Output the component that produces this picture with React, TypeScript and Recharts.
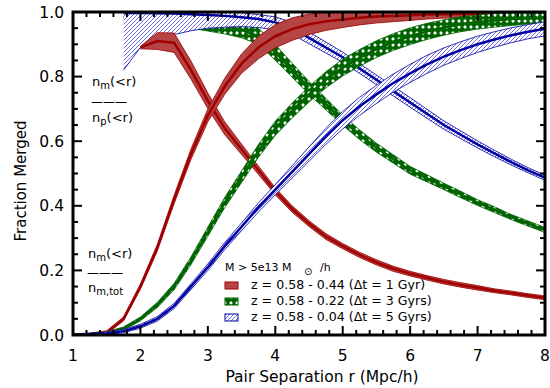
import { ComposedChart, Area, Line, XAxis, YAxis } from "recharts";

const FONT = "'DejaVu Sans', sans-serif";
const RED = "#a00000";
const RED_FILL = "#b54444";
const GREEN = "#006400";
const BLUE = "#0000a0";
const HATCH = "#4848e0";

// pair separation r (Mpc/h)
const xs = [1, 1.25, 1.5, 1.75, 2, 2.25, 2.5, 2.75, 3, 3.25, 3.5, 3.75, 4, 4.25, 4.5, 4.75, 5, 5.25, 5.5, 5.75, 6, 6.25, 6.5, 6.75, 7, 7.25, 7.5, 7.75, 8];

// n_m(<r) / n_m,tot  (rising curves) and half widths of the bands
const redUp = [0, 0.002, 0.008, 0.05, 0.15, 0.27, 0.42, 0.56, 0.68, 0.77, 0.84, 0.89, 0.925, 0.947, 0.962, 0.971, 0.977, 0.982, 0.986, 0.988, 0.99, 0.992, 0.993, 0.994, 0.995, 0.996, 0.996, 0.997, 0.997];
const redUpW = [0.004, 0.004, 0.005, 0.006, 0.008, 0.01, 0.013, 0.016, 0.02, 0.025, 0.03, 0.035, 0.036, 0.035, 0.032, 0.028, 0.025, 0.022, 0.02, 0.018, 0.016, 0.014, 0.012, 0.011, 0.01, 0.009, 0.008, 0.008, 0.007];
const greenUp = [0, 0.002, 0.006, 0.02, 0.05, 0.093, 0.15, 0.23, 0.32, 0.41, 0.49, 0.57, 0.64, 0.695, 0.745, 0.79, 0.828, 0.858, 0.885, 0.907, 0.925, 0.94, 0.952, 0.962, 0.969, 0.974, 0.978, 0.981, 0.983];
const greenUpW = [0.003, 0.003, 0.004, 0.005, 0.006, 0.008, 0.01, 0.012, 0.014, 0.016, 0.018, 0.02, 0.022, 0.023, 0.024, 0.025, 0.026, 0.026, 0.026, 0.026, 0.026, 0.025, 0.024, 0.023, 0.022, 0.021, 0.02, 0.018, 0.017];
const blueUp = [0, 0.002, 0.005, 0.012, 0.027, 0.05, 0.09, 0.15, 0.21, 0.275, 0.335, 0.395, 0.45, 0.505, 0.56, 0.615, 0.665, 0.708, 0.745, 0.78, 0.81, 0.838, 0.862, 0.882, 0.9, 0.915, 0.928, 0.939, 0.948];
const blueUpW = [0.003, 0.003, 0.004, 0.005, 0.006, 0.007, 0.008, 0.009, 0.01, 0.011, 0.012, 0.014, 0.016, 0.019, 0.022, 0.025, 0.027, 0.028, 0.028, 0.028, 0.028, 0.028, 0.027, 0.026, 0.025, 0.024, 0.023, 0.022, 0.022];

// n_m(<r) / n_p(<r)  (falling curves)
const redDown = [null, null, null, null, 0.89, 0.91, 0.905, 0.82, 0.725, 0.64, 0.575, 0.51, 0.445, 0.39, 0.345, 0.305, 0.275, 0.248, 0.225, 0.205, 0.19, 0.177, 0.165, 0.155, 0.146, 0.137, 0.13, 0.122, 0.115];
const redDownW = [null, null, null, null, 0.004, 0.026, 0.03, 0.028, 0.024, 0.02, 0.016, 0.013, 0.011, 0.01, 0.009, 0.009, 0.008, 0.008, 0.008, 0.008, 0.007, 0.007, 0.007, 0.007, 0.007, 0.006, 0.006, 0.006, 0.006];
const greenDown = [null, null, null, 0.985, 0.985, 0.982, 0.978, 0.972, 0.965, 0.957, 0.945, 0.925, 0.875, 0.82, 0.765, 0.715, 0.665, 0.62, 0.58, 0.545, 0.51, 0.485, 0.46, 0.435, 0.41, 0.388, 0.365, 0.345, 0.325];
const greenDownW = [null, null, null, 0.015, 0.015, 0.018, 0.02, 0.022, 0.024, 0.025, 0.025, 0.025, 0.024, 0.022, 0.02, 0.018, 0.016, 0.015, 0.014, 0.013, 0.012, 0.011, 0.01, 0.01, 0.009, 0.009, 0.008, 0.008, 0.008];
const blueDown = [null, null, null, 0.997, 0.997, 0.996, 0.995, 0.993, 0.991, 0.988, 0.984, 0.978, 0.968, 0.95, 0.92, 0.89, 0.86, 0.825, 0.79, 0.755, 0.72, 0.685, 0.65, 0.62, 0.59, 0.562, 0.535, 0.51, 0.487];
const blueDownLo = [null, null, null, 0.82, 0.89, 0.915, 0.93, 0.942, 0.95, 0.953, 0.955, 0.952, 0.945, 0.93, 0.902, 0.873, 0.844, 0.81, 0.775, 0.74, 0.705, 0.671, 0.637, 0.608, 0.579, 0.552, 0.526, 0.502, 0.479];
const blueDownHi = [null, null, null, 1, 1, 1, 1, 1, 1, 1, 0.998, 0.992, 0.985, 0.968, 0.938, 0.907, 0.876, 0.84, 0.805, 0.77, 0.735, 0.699, 0.663, 0.632, 0.601, 0.572, 0.544, 0.518, 0.495];

const legendLabels = [
  "z = 0.58 - 0.44 (\u0394t = 1 Gyr)",
  "z = 0.58 - 0.22 (\u0394t = 3 Gyrs)",
  "z = 0.58 - 0.04 (\u0394t = 5 Gyrs)",
];

const xMajor = [1, 2, 3, 4, 5, 6, 7, 8];
const yMajor = [0, 0.2, 0.4, 0.6, 0.8, 1];
const xTicks = Array.from({ length: 36 }, (_, i) => Math.round((1 + i * 0.2) * 10) / 10);
const yTicks = Array.from({ length: 21 }, (_, i) => (i * 5) / 100);

const band = (m: number | null, w: number | null) =>
  m == null || w == null ? [null, null] : [Math.max(0, m - w), Math.min(1, m + w)];

const rows = xs.map((x, i) => ({
  x,
  redUp: redUp[i],
  redUpBand: band(redUp[i], redUpW[i]),
  redDown: redDown[i],
  redDownBand: band(redDown[i], redDownW[i]),
  greenUp: greenUp[i],
  greenUpBand: band(greenUp[i], greenUpW[i]),
  greenDown: greenDown[i],
  greenDownBand: band(greenDown[i], greenDownW[i]),
  blueUp: blueUp[i],
  blueUpBand: band(blueUp[i], blueUpW[i]),
  blueDown: blueDown[i],
  blueDownBand: [blueDownLo[i], blueDownHi[i]],
}));

// drawing order, bottom to top
const series = [
  { key: "greenDown", fill: "url(#greenX)", color: GREEN },
  { key: "blueDown", fill: "url(#blueHatch)", color: BLUE },
  { key: "redDown", fill: RED_FILL, color: RED },
  { key: "redUp", fill: RED_FILL, color: RED },
  { key: "greenUp", fill: "url(#greenX)", color: GREEN },
  { key: "blueUp", fill: "url(#blueHatch)", color: BLUE },
];

const isMajor = (v: number, majors: number[]) => majors.some((m) => Math.abs(m - v) < 1e-6);

// plot box set by the chart margins and axis sizes below
const W = 550;
const H = 388;
const PL = 73;
const PR = W - 5;
const PT = 12;
const PB = H - 53;
const px = (v: number) => PL + ((v - 1) / 7) * (PR - PL);
const py = (v: number) => PB - v * (PB - PT);

const XLabel = (p: any) =>
  isMajor(p.payload.value, xMajor) ? (
    <text x={p.x} y={p.y + 26} textAnchor="middle" fontSize={15.5} fontFamily={FONT} fill="#000">
      {p.payload.value}
    </text>
  ) : (
    <g />
  );

const YLabel = (p: any) =>
  isMajor(p.payload.value, yMajor) ? (
    <text x={p.x - 9} y={p.y + 5.5} textAnchor="end" fontSize={15.5} fontFamily={FONT} fill="#000">
      {p.payload.value.toFixed(1)}
    </text>
  ) : (
    <g />
  );

// box with inward ticks on all four sides, kept above the plotted bands
const Frame = () => (
  <svg width={W} height={H} style={{ position: "absolute", left: 0, top: 0, pointerEvents: "none" }}>
    <g stroke="#000" strokeWidth={2}>
      {xTicks.map((v) => {
        const len = isMajor(v, xMajor) ? 9 : 5;
        return (
          <g key={"x" + v}>
            <line x1={px(v)} x2={px(v)} y1={PB} y2={PB - len} />
            <line x1={px(v)} x2={px(v)} y1={PT} y2={PT + len} />
          </g>
        );
      })}
      {yTicks.map((v) => {
        const len = isMajor(v, yMajor) ? 9 : 5;
        return (
          <g key={"y" + v}>
            <line x1={PL} x2={PL + len} y1={py(v)} y2={py(v)} />
            <line x1={PR} x2={PR - len} y1={py(v)} y2={py(v)} />
          </g>
        );
      })}
    </g>
    <rect x={PL} y={PT} width={PR - PL} height={PB - PT} fill="none" stroke="#000" strokeWidth={3} />
  </svg>
);

export default function App() {
  return (
    <div style={{ position: "absolute", left: 0, top: 0, width: W, height: H, background: "#fff" }}>
      <svg width={0} height={0} style={{ position: "absolute" }}>
        <defs>
          <pattern id="greenX" width="6" height="6" patternUnits="userSpaceOnUse">
            <rect width="6" height="6" fill={GREEN} />
            <path d="M3,1.1 L4.9,3 L3,4.9 L1.1,3 Z" fill="#fff" />
          </pattern>
          <pattern id="blueHatch" width="4" height="4" patternUnits="userSpaceOnUse">
            <rect width="4" height="4" fill="#fff" />
            <path d="M-1,1 L1,-1 M0,4 L4,0 M3,5 L5,3" stroke={HATCH} strokeWidth={0.8} />
          </pattern>
        </defs>
      </svg>
      <ComposedChart width={W} height={H} data={rows} margin={{ top: PT, right: W - PR, bottom: 0, left: 0 }}>
        {series.flatMap((s, i) => [
          <Area
            key={s.key + "Band"}
            dataKey={s.key + "Band"}
            type="linear"
            fill={s.fill}
            fillOpacity={1}
            stroke={s.color}
            strokeWidth={0.8}
            isAnimationActive={false}
            activeDot={false}
            zIndex={100 + i * 2}
          />,
          <Line
            key={s.key}
            dataKey={s.key}
            type="linear"
            stroke={s.color}
            strokeWidth={2.5}
            dot={false}
            activeDot={false}
            isAnimationActive={false}
            zIndex={101 + i * 2}
          />,
        ])}

        <XAxis
          dataKey="x"
          type="number"
          domain={[1, 8]}
          ticks={xTicks}
          interval={0}
          tickSize={0}
          tickMargin={0}
          tick={XLabel}
          tickLine={false}
          axisLine={false}
          height={H - PB}
          allowDataOverflow
        />
        <YAxis
          type="number"
          domain={[0, 1]}
          ticks={yTicks}
          interval={0}
          tickSize={0}
          tickMargin={0}
          tick={YLabel}
          tickLine={false}
          axisLine={false}
          width={PL}
          allowDataOverflow
        />

        <g fontFamily={FONT} fill="#000">
          <text x={322} y={382} textAnchor="middle" fontSize={15.5}>
            Pair Separation r (Mpc/h)
          </text>
          <text x={26} y={181} textAnchor="middle" fontSize={15} transform="rotate(-90, 26, 181)">
            Fraction Merged
          </text>

          <text x={92} y={86} fontSize={13}>
            n<tspan fontSize={10} dy={3}>m</tspan>
            <tspan dy={-3}>(&lt;r)</tspan>
          </text>
          <text x={91} y={106} fontSize={12}>———</text>
          <text x={92} y={122} fontSize={13}>
            n<tspan fontSize={10} dy={3}>p</tspan>
            <tspan dy={-3}>(&lt;r)</tspan>
          </text>

          <text x={88} y={258} fontSize={13}>
            n<tspan fontSize={10} dy={3}>m</tspan>
            <tspan dy={-3}>(&lt;r)</tspan>
          </text>
          <text x={87} y={277} fontSize={12}>———</text>
          <text x={88} y={292} fontSize={13}>
            n<tspan fontSize={10} dy={3}>m,tot</tspan>
          </text>

          <text x={225} y={271} fontSize={11}>M &gt; 5e13 M</text>
          <text x={304} y={275} fontSize={10}>{"\u2299"}</text>
          <text x={320} y={271} fontSize={11}>/h</text>
          {legendLabels.map((label, i) => (
            <g key={label}>
              <rect
                x={225}
                y={282 + i * 16}
                width={13}
                height={7}
                fill={[RED_FILL, "url(#greenX)", "url(#blueHatch)"][i]}
                stroke={[RED, GREEN, BLUE][i]}
                strokeWidth={1}
              />
              <text x={251} y={289 + i * 16} fontSize={12.6}>
                {label}
              </text>
            </g>
          ))}
        </g>
      </ComposedChart>
      <Frame />
    </div>
  );
}
